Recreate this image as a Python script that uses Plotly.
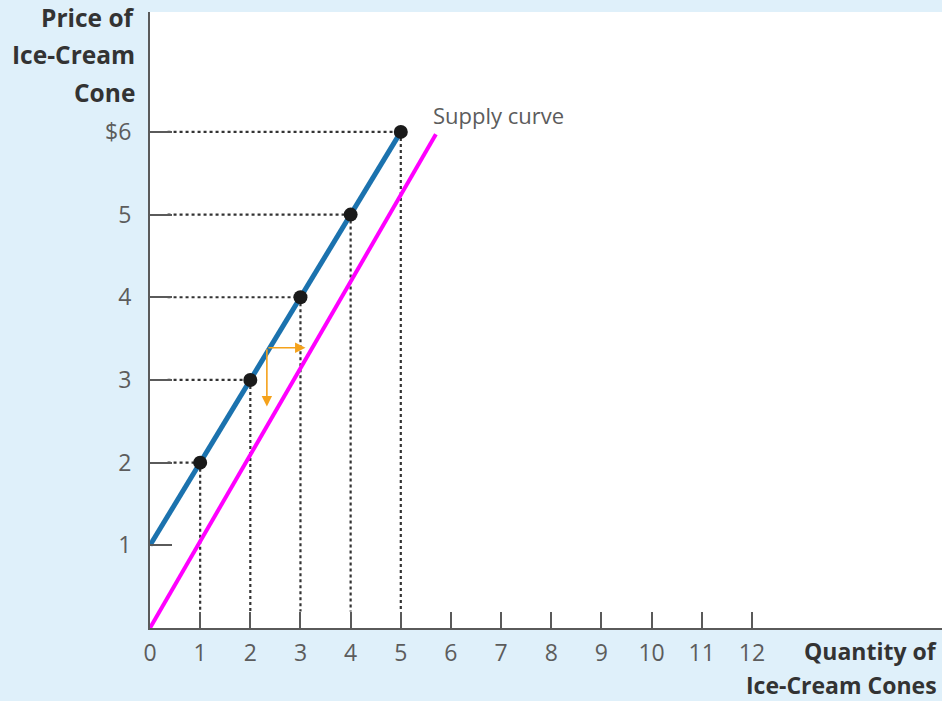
import plotly.graph_objects as go

# Data
quantity = [0, 1, 2, 3, 4, 5]
price = [1, 2, 3, 4, 5, 6]
point_q = [1, 2, 3, 4, 5]
point_p = [2, 3, 4, 5, 6]
shift_q = [0, 5.7]
shift_p = [0, 5.97]
x_ticks = list(range(0, 13))
y_ticks = [1, 2, 3, 4, 5, 6]
y_ticktext = ["1", "2", "3", "4", "5", "$6"]
y_title_lines = ["Price of", "Ice-Cream", "Cone"]
x_title_lines = ["Quantity of", "Ice-Cream Cones"]
arrow_corner = (2.33, 3.39)
arrow_right_end = 3.1
arrow_down_end = 2.68

AX = "#5a5a5a"
TXT = "#5c5c5c"
DARK = "#333333"
FONT = "Open Sans"

TOP, BOT = 12, 628  # plot area pixel rows


def py(pix):
    """pixel row -> paper y"""
    return (BOT - pix) / (BOT - TOP)


fig = go.Figure()

# dotted guide lines
for q, p in zip(point_q, point_p):
    fig.add_trace(go.Scatter(x=[0.35, q], y=[p, p], mode="lines",
                             line=dict(color="#333333", width=2.2, dash="dot"),
                             hoverinfo="skip", showlegend=False))
    fig.add_trace(go.Scatter(x=[q, q], y=[p, 0.2], mode="lines",
                             line=dict(color="#333333", width=2.2, dash="dot"),
                             hoverinfo="skip", showlegend=False))

# supply curve (blue)
fig.add_trace(go.Scatter(x=quantity, y=price, mode="lines",
                         line=dict(color="#1b72ae", width=5),
                         hoverinfo="skip", showlegend=False))
fig.add_trace(go.Scatter(x=point_q, y=point_p, mode="markers",
                         marker=dict(color="#1a1a1a", size=14),
                         hoverinfo="skip", showlegend=False))
# shifted curve (magenta)
fig.add_trace(go.Scatter(x=shift_q, y=shift_p, mode="lines",
                         line=dict(color="#ff00ff", width=4),
                         hoverinfo="skip", showlegend=False))

fig.add_annotation(x=arrow_right_end, y=arrow_corner[1], ax=arrow_corner[0], ay=arrow_corner[1],
                   xref="x", yref="y", axref="x", ayref="y", showarrow=True, arrowhead=2,
                   arrowsize=1.3, arrowwidth=1.6, arrowcolor="#f5a21b", text="")
fig.add_annotation(x=arrow_corner[0], y=arrow_down_end, ax=arrow_corner[0], ay=arrow_corner[1],
                   xref="x", yref="y", axref="x", ayref="y", showarrow=True, arrowhead=2,
                   arrowsize=1.3, arrowwidth=1.6, arrowcolor="#f5a21b", text="")
fig.add_annotation(x=5.6, y=6.2, xref="x", yref="y", text="Supply curve", showarrow=False,
                   xanchor="left", yanchor="middle", font=dict(family=FONT, size=22, color=TXT))

for line, pix in zip(y_title_lines, [18, 55, 92]):
    fig.add_annotation(x=0, y=py(pix), xref="paper", yref="paper", xanchor="right",
                       yanchor="middle", xshift=-13, showarrow=False,
                       text=f"<b>{line}</b>", font=dict(family=FONT, size=24.5, color=DARK))
for line, pix in zip(x_title_lines, [651, 685]):
    fig.add_annotation(x=1, y=py(pix), xref="paper", yref="paper", xanchor="right",
                       yanchor="middle", xshift=-3, showarrow=False,
                       text=f"<b>{line}</b>", font=dict(family=FONT, size=23, color=DARK))

fig.update_layout(
    width=942, height=701,
    margin=dict(l=150, r=0, t=TOP, b=701 - BOT),
    paper_bgcolor="#dff0fa",
    plot_bgcolor="white",
    showlegend=False,
)

fig.update_xaxes(range=[0, 15.79], showgrid=False, zeroline=False,
                 showline=True, linecolor=AX, linewidth=2,
                 tickvals=x_ticks, ticks="inside", ticklen=16, tickwidth=2, tickcolor=AX,
                 tickfont=dict(family=FONT, size=23, color=TXT), ticklabelstandoff=3)
fig.update_yaxes(range=[0, 7.45], showgrid=False, zeroline=False,
                 showline=True, linecolor=AX, linewidth=2,
                 tickvals=y_ticks, ticktext=y_ticktext, ticks="inside", ticklen=22,
                 tickwidth=2, tickcolor=AX,
                 tickfont=dict(family=FONT, size=23, color=TXT), ticklabelstandoff=12)

fig.write_html("out.html", config={"displayModeBar": False},
               post_script="document.body.style.margin='0';")
